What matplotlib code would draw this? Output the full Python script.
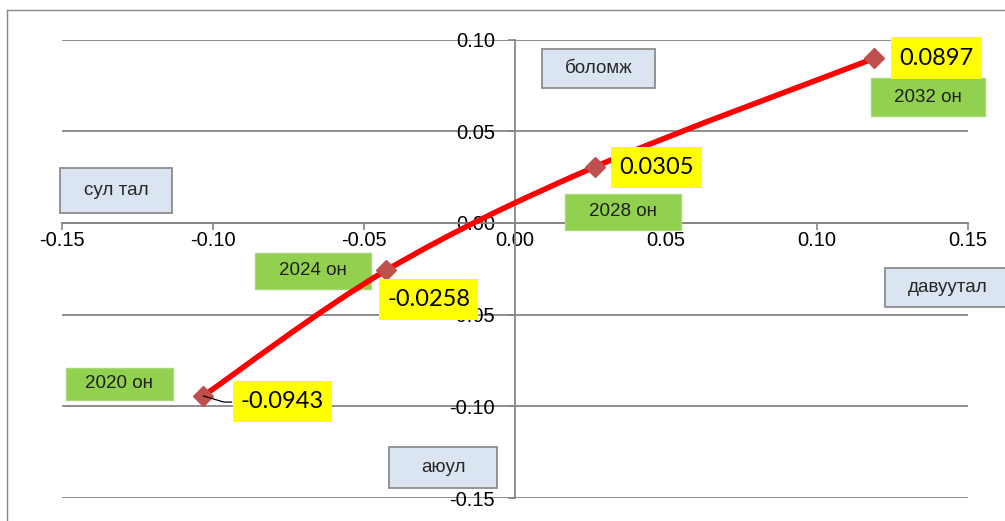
import numpy as np
import matplotlib
matplotlib.use('Agg')
import matplotlib.pyplot as plt
from matplotlib.patches import Rectangle, PathPatch
from matplotlib.path import Path
from matplotlib.transforms import ScaledTranslation
from matplotlib.lines import Line2D

# ---------------- data ----------------
years = ['2020 он', '2024 он', '2028 он', '2032 он']
x_vals = [-0.1032, -0.0426, 0.0264, 0.1189]
y_vals = [-0.0943, -0.0258, 0.0305, 0.0897]
value_labels = ['-0.0943', '-0.0258', '0.0305', '0.0897']
quadrant_labels = ['сул тал', 'боломж', 'давуутал', 'аюул']
x_ticks = [-0.15, -0.10, -0.05, 0.00, 0.05, 0.10, 0.15]
y_ticks = [-0.15, -0.10, -0.05, 0.00, 0.05, 0.10]

plt.rcParams['font.family'] = ['Liberation Sans', 'DejaVu Sans']

W, H = 1005, 521
fig = plt.figure(figsize=(W / 100, H / 100), dpi=100)
ax = fig.add_axes([62 / W, 1 - 498 / H, 906 / W, 458.5 / H])

grey = '#868686'
for s in ['top', 'right']:
    ax.spines[s].set_visible(False)
ax.spines['left'].set_position(('data', 0))
ax.spines['bottom'].set_position(('data', 0))
for s in ['left', 'bottom']:
    ax.spines[s].set_color(grey)
    ax.spines[s].set_linewidth(1.3)

ax.set_xticks(x_ticks)
ax.set_xticklabels([f'{v:.2f}' for v in x_ticks])
ax.set_yticks(y_ticks)
ax.set_yticklabels([f'{v:.2f}' for v in y_ticks])
ax.tick_params(axis='x', direction='out', length=5, width=1.2, color=grey, pad=1, labelsize=14.5)
ax.tick_params(axis='y', direction='out', length=5, width=1.2, color=grey, pad=9.5, labelsize=14.5)
ax.yaxis.grid(True, color=grey, lw=1.3)
ax.xaxis.grid(False)
ax.set_xlim(-0.15, 0.15)
ax.set_ylim(-0.15, 0.10)

# ---------------- smoothed line (Excel-like) ----------------
P = np.column_stack([x_vals, y_vals])
n = len(P)
verts = [P[0]]
codes = [Path.MOVETO]
for i in range(n - 1):
    p0 = P[i - 1] if i > 0 else P[i]
    p1 = P[i]
    p2 = P[i + 1]
    p3 = P[i + 2] if i + 2 < n else P[i + 1]
    c1 = p1 + (p2 - p0) / 6
    c2 = p2 - (p3 - p1) / 6
    verts += [c1, c2, p2]
    codes += [Path.CURVE4] * 3
ax.add_patch(PathPatch(Path(verts, codes), fill=False, ec='#FF0000', lw=4.0,
                       zorder=6, capstyle='round', joinstyle='round'))
ax.plot(x_vals, y_vals, ls='none', marker='D', ms=10, color='#C0504D', zorder=7)


def anchored_box(x, y, dx, dy, w, h, text, fc, ec, z, **tk):
    tr = fig.dpi_scale_trans + ScaledTranslation(x, y, ax.transData)
    r = Rectangle(((dx - w / 2) / 100, (-dy - h / 2) / 100), w / 100, h / 100,
                  transform=tr, fc=fc, ec=ec, lw=1.0, zorder=z, clip_on=False)
    ax.add_artist(r)
    ax.text(dx / 100, -dy / 100, text, transform=tr, ha='center', va='center',
            zorder=z + 0.1, clip_on=False, **tk)


# value labels (yellow) : offsets/sizes in pixels
val_off = [(79, 5.6, 99, 41), (42.5, 29.5, 99, 41), (62, 0.5, 91, 41), (62, 0, 91, 42)]
for xv, yv, lab, (dx, dy, w, h) in zip(x_vals, y_vals, value_labels, val_off):
    anchored_box(xv, yv, dx, dy, w, h, lab, '#FFFF00', 'none', 8,
                 fontsize=17, family=['Lato', 'DejaVu Sans'], color='black')

# year labels (green)
yr_off = [(-84, -12, 107, 32), (-73.5, 0.6, 116, 36), (28, 45, 116, 36), (54, 39, 114, 38)]
for xv, yv, lab, (dx, dy, w, h) in zip(x_vals, y_vals, years, yr_off):
    anchored_box(xv, yv, dx, dy, w, h, lab, '#92D050', '#a8d878', 5,
                 fontsize=13.5, color='#1e1e1e')

# leader line for first label
ax.annotate('', xy=(x_vals[0], y_vals[0]), xytext=(20.4, -4.5), textcoords='offset points',
            arrowprops=dict(arrowstyle='-', color='black', lw=0.9, shrinkA=0, shrinkB=0,
                            connectionstyle='angle,angleA=0,angleB=-17,rad=2'),
            zorder=7.5)

# quadrant boxes (figure pixel layout)
quad_pos = [(60, 168, 172, 213), (542, 49, 655, 88), (885, 268, 1010, 307), (389, 447, 497, 488)]
for lab, (x0, y0, x1, y1) in zip(quadrant_labels, quad_pos):
    r = Rectangle((x0 / W, 1 - y1 / H), (x1 - x0) / W, (y1 - y0) / H, transform=fig.transFigure,
                  fc='#DBE5F1', ec='#8C8C8C', lw=1.3, zorder=9)
    fig.add_artist(r)
    cx = (x0 + x1) / 2
    fig.text(cx / W, 1 - (y0 + y1) / 2 / H, lab, ha='center', va='center', fontsize=13.5,
             color='#262626', zorder=10)

# chart area border (left and top visible)
fig.add_artist(Line2D([7 / W, 7 / W], [1 - 10 / H, 0], transform=fig.transFigure, color='#898989', lw=1))
fig.add_artist(Line2D([7 / W, 1], [1 - 10 / H, 1 - 10 / H], transform=fig.transFigure, color='#898989', lw=1))

fig.savefig('out.png', dpi=100)
